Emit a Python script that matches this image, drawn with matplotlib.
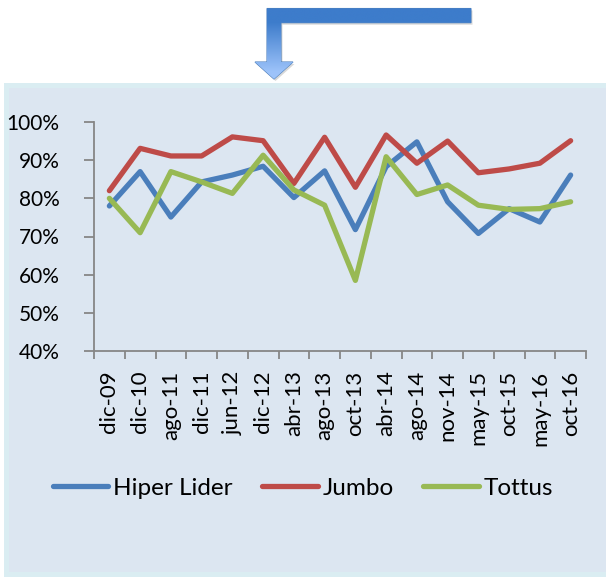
import numpy as np
import matplotlib
matplotlib.use("Agg")
import matplotlib.pyplot as plt
from matplotlib.patches import Polygon, Rectangle
from matplotlib.ticker import FuncFormatter

categories = ["dic-09", "dic-10", "ago-11", "dic-11", "jun-12", "dic-12", "abr-13",
              "ago-13", "oct-13", "abr-14", "ago-14", "nov-14", "may-15", "oct-15",
              "may-16", "oct-16"]
hiper_lider = [78.0, 87.0, 75.1, 84.3, 86.1, 88.4, 80.2, 87.2, 71.8, 88.3, 94.8, 79.1,
               70.8, 77.3, 73.8, 86.1]
jumbo = [82.0, 93.1, 91.1, 91.1, 96.1, 95.1, 83.9, 96.0, 82.9, 96.6, 89.2, 95.0,
         86.7, 87.7, 89.2, 95.1]
tottus = [80.0, 71.0, 87.0, 84.3, 81.3, 91.3, 82.2, 78.2, 58.5, 90.9, 81.0, 83.5,
          78.2, 77.1, 77.3, 79.1]
series_names = ["Hiper Lider", "Jumbo", "Tottus"]
series_colors = ["#4a7ebb", "#be4b48", "#98b954"]

plt.rcParams['font.family'] = ['Lato', 'DejaVu Sans']

W, H = 606, 577
fig = plt.figure(figsize=(W / 100, H / 100), dpi=100)
fig.patch.set_facecolor("white")

# background layer in pixel coordinates
bg = fig.add_axes([0, 0, 1, 1], zorder=0)
bg.set_xlim(0, W)
bg.set_ylim(H, 0)
bg.axis("off")
bg.add_patch(Rectangle((4, 83), W - 4, H - 83, facecolor="#daedf2", edgecolor="none"))
bg.add_patch(Rectangle((9, 88), W - 9, 572 - 88, facecolor="#dce6f1", edgecolor="none"))

# bent arrow
arrow_pts = [(471, 8.5), (471, 22.7), (281, 22.7), (281, 62), (293, 62), (274, 79),
             (255, 62), (267, 62), (267, 8.5)]
shadow = Polygon([(x + 1.5, y + 2) for x, y in arrow_pts], closed=True,
                 facecolor="#000000", alpha=0.15, edgecolor="none")
bg.add_patch(shadow)
arrow = Polygon(arrow_pts, closed=True, facecolor="none", edgecolor="#4f81bd", lw=0.8)
bg.add_patch(arrow)
c0 = np.array([0x3d, 0x7c, 0xcb]) / 255
c1 = np.array([0x9d, 0xc3, 0xfa]) / 255
t = np.clip((np.linspace(8, 79, 256) - 22) / 50, 0, 1).reshape(-1, 1, 1)
img = c0 * (1 - t) + c1 * t
img = np.repeat(img, 2, axis=1)
im = bg.imshow(img, extent=(250, 475, 79, 8), aspect="auto", zorder=1)
im.set_clip_path(arrow)
bg.set_xlim(0, W)
bg.set_ylim(H, 0)

# main chart
ax = fig.add_axes([94 / W, 1 - 351 / H, (586 - 94) / W, (351 - 122) / H], zorder=2)
ax.patch.set_alpha(0)
x = np.arange(len(categories))
for vals, name, col in zip([hiper_lider, jumbo, tottus], series_names, series_colors):
    ax.plot(x, np.array(vals) / 100, color=col, lw=3.8, label=name,
            solid_joinstyle="round", solid_capstyle="round")

ax.set_xlim(-0.5, len(categories) - 0.5)
ax.set_ylim(0.4, 1.0)
ax.set_yticks(np.arange(0.4, 1.01, 0.1))
ax.yaxis.set_major_formatter(FuncFormatter(lambda v, p: f"{v * 100:.0f}%"))
ax.set_xticks(np.arange(-0.5, len(categories), 1))
ax.set_xticklabels([])
ax.set_xticks(x, minor=True)
ax.set_xticklabels(categories, minor=True, rotation=90, fontsize=16)
ax.tick_params(axis="x", which="major", length=6, width=1.3, color="#868686", direction="out")
ax.tick_params(axis="x", which="minor", length=0, pad=14)
ax.tick_params(axis="y", length=7, width=1.3, color="#868686", direction="out",
               labelsize=15, pad=18)
for s in ["top", "right"]:
    ax.spines[s].set_visible(False)
for s in ["left", "bottom"]:
    ax.spines[s].set_color("#868686")
    ax.spines[s].set_linewidth(1.3)

handles, labels = ax.get_legend_handles_labels()
fig.legend(handles, labels, loc="center", bbox_to_anchor=(0.5, 1 - 488 / H), ncol=3,
           frameon=False, fontsize=17.5, handlelength=2.3, handletextpad=0.2,
           columnspacing=1.2)

fig.savefig("out.png", dpi=100)
